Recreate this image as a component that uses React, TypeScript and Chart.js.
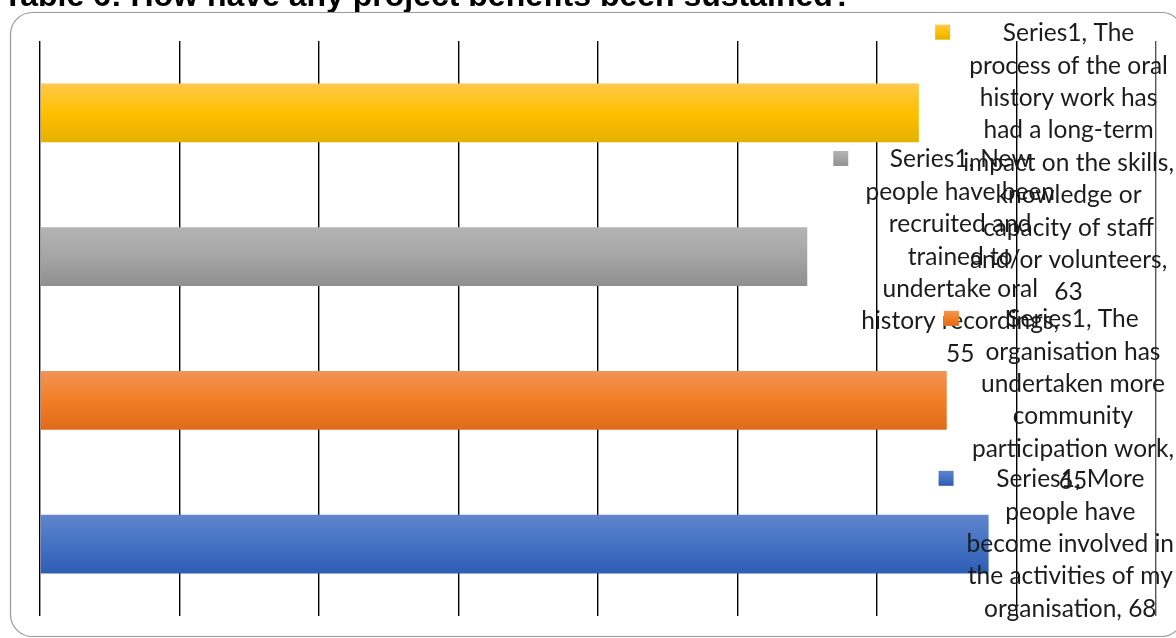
import React, { useEffect, useRef } from "react";
import { Chart, registerables } from "chart.js";

Chart.register(...registerables);

const titleText = "Table 6: How have any project benefits been sustained?";
const seriesName = "Series1";
const categories: string[][] = [
  ["The", "process of the oral", "history work has", "had a long-term", "impact on the skills,", "knowledge or", "capacity of staff", "and/or volunteers"],
  ["New", "people have been", "recruited and", "trained to", "undertake oral", "history recordings"],
  ["The", "organisation has", "undertaken more", "community", "participation work"],
  ["More", "people have", "become involved in", "the activities of my", "organisation"],
];
const values = [63, 55, 65, 68];
const xTicks = [0, 10, 20, 30, 40, 50, 60, 70, 80];
const barGradients: string[][] = [
  ["#ffc849", "#ffc000", "#e5b000"],
  ["#b4b4b4", "#a5a5a5", "#8f8f8f"],
  ["#f29457", "#f27e24", "#df6a1b"],
  ["#6185cd", "#4472c4", "#2d5db4"],
];

const LABEL_FONT = '24.5px Lato, "Noto Sans", sans-serif';
const LINE_H = 32.4;
const WRAP_W = 225;

function vGrad(ctx: CanvasRenderingContext2D, top: number, bottom: number, cols: string[]) {
  const g = ctx.createLinearGradient(0, top, 0, bottom);
  g.addColorStop(0, cols[0]);
  g.addColorStop(0.5, cols[1]);
  g.addColorStop(1, cols[2]);
  return g;
}

function buildLines(ctx: CanvasRenderingContext2D, i: number): string[] {
  const cat = categories[i];
  const lines = cat.map((l, k) => (k === 0 ? `${seriesName}, ${l}` : l));
  const last = lines.length - 1;
  lines[last] = lines[last] + ",";
  const joined = `${lines[last]} ${values[i]}`;
  if (ctx.measureText(joined).width <= WRAP_W) lines[last] = joined;
  else lines.push(String(values[i]));
  return lines;
}

const decorPlugin = {
  id: "decor",
  beforeDraw(chart: any) {
    const ctx = chart.ctx as CanvasRenderingContext2D;
    ctx.save();
    ctx.fillStyle = "#000";
    ctx.font = 'bold 32px "Liberation Sans", Arial, sans-serif';
    ctx.textAlign = "left";
    ctx.textBaseline = "alphabetic";
    ctx.fillText(titleText, 3, 6);
    ctx.strokeStyle = "#9a9a9a";
    ctx.lineWidth = 1.2;
    ctx.beginPath();
    (ctx as any).roundRect(10.5, 12.5, 1173, 624, 22);
    ctx.stroke();
    ctx.restore();
  },
  afterDatasetsDraw(chart: any) {
    const ctx = chart.ctx as CanvasRenderingContext2D;
    const meta = chart.getDatasetMeta(0);
    ctx.save();
    ctx.font = LABEL_FONT;
    ctx.fillStyle = "#1c1c1c";
    ctx.textAlign = "center";
    ctx.textBaseline = "middle";
    meta.data.forEach((bar: any, i: number) => {
      const lines = buildLines(ctx, i);
      const w = Math.max(...lines.map((l) => ctx.measureText(l).width));
      const blockH = lines.length * LINE_H;
      let left = bar.x + 54;
      if (left + w > chart.width - 2) left = chart.width - 2 - w;
      let top = bar.y - blockH / 2;
      if (top < 17) top = 17;
      const cx = left + w / 2;
      lines.forEach((l, k) => ctx.fillText(l, cx, top + LINE_H * (k + 0.5)));
      const my = top + LINE_H / 2 - 8.5;
      const mx = left - 28;
      ctx.fillStyle = vGrad(ctx, my, my + 15, barGradients[i]);
      ctx.fillRect(mx, my, 15, 15);
      ctx.fillStyle = "#1c1c1c";
    });
    ctx.restore();
  },
};

export default function App() {
  const canvasRef = useRef<HTMLCanvasElement | null>(null);
  useEffect(() => {
    const canvas = canvasRef.current;
    if (!canvas) return;
    const chart = new Chart(canvas, {
      type: "bar",
      data: {
        labels: categories.map((c) => c.join(" ")),
        datasets: [
          {
            label: seriesName,
            data: values,
            backgroundColor: (c: any) => {
              const ch = c.chart;
              const i = c.dataIndex ?? 0;
              const area = ch.chartArea;
              const ys = ch.scales?.y;
              if (!area || !ys) return barGradients[i][1];
              const center = ys.getPixelForValue(i);
              const band = area.height / values.length;
              const half = (band * 0.41) / 2;
              return vGrad(ch.ctx, center - half, center + half, barGradients[i]);
            },
            borderWidth: 0,
            categoryPercentage: 1,
            barPercentage: 0.41,
          },
        ],
      },
      options: {
        indexAxis: "y",
        animation: false,
        responsive: false,
        maintainAspectRatio: false,
        layout: { padding: { left: 40, right: 20, top: 41, bottom: 22 } },
        plugins: { legend: { display: false }, tooltip: { enabled: false }, title: { display: false } },
        scales: {
          x: {
            type: "linear",
            min: xTicks[0],
            max: xTicks[xTicks.length - 1],
            afterBuildTicks: (s: any) => {
              s.ticks = xTicks.map((v) => ({ value: v }));
            },
            ticks: { display: false },
            border: { display: false },
            grid: {
              drawTicks: false,
              color: (c: any) => (c.index === xTicks.length - 1 ? "#555555" : "#000000"),
              lineWidth: 1.4,
            },
          },
          y: {
            display: false,
            grid: { display: false },
          },
        },
      },
      plugins: [decorPlugin],
    } as any);
    return () => chart.destroy();
  }, []);
  return (
    <div style={{ position: "fixed", left: 0, top: 0, width: 1176, height: 638, background: "#fff" }}>
      <canvas ref={canvasRef} width={1176} height={638} style={{ display: "block" }} />
    </div>
  );
}
